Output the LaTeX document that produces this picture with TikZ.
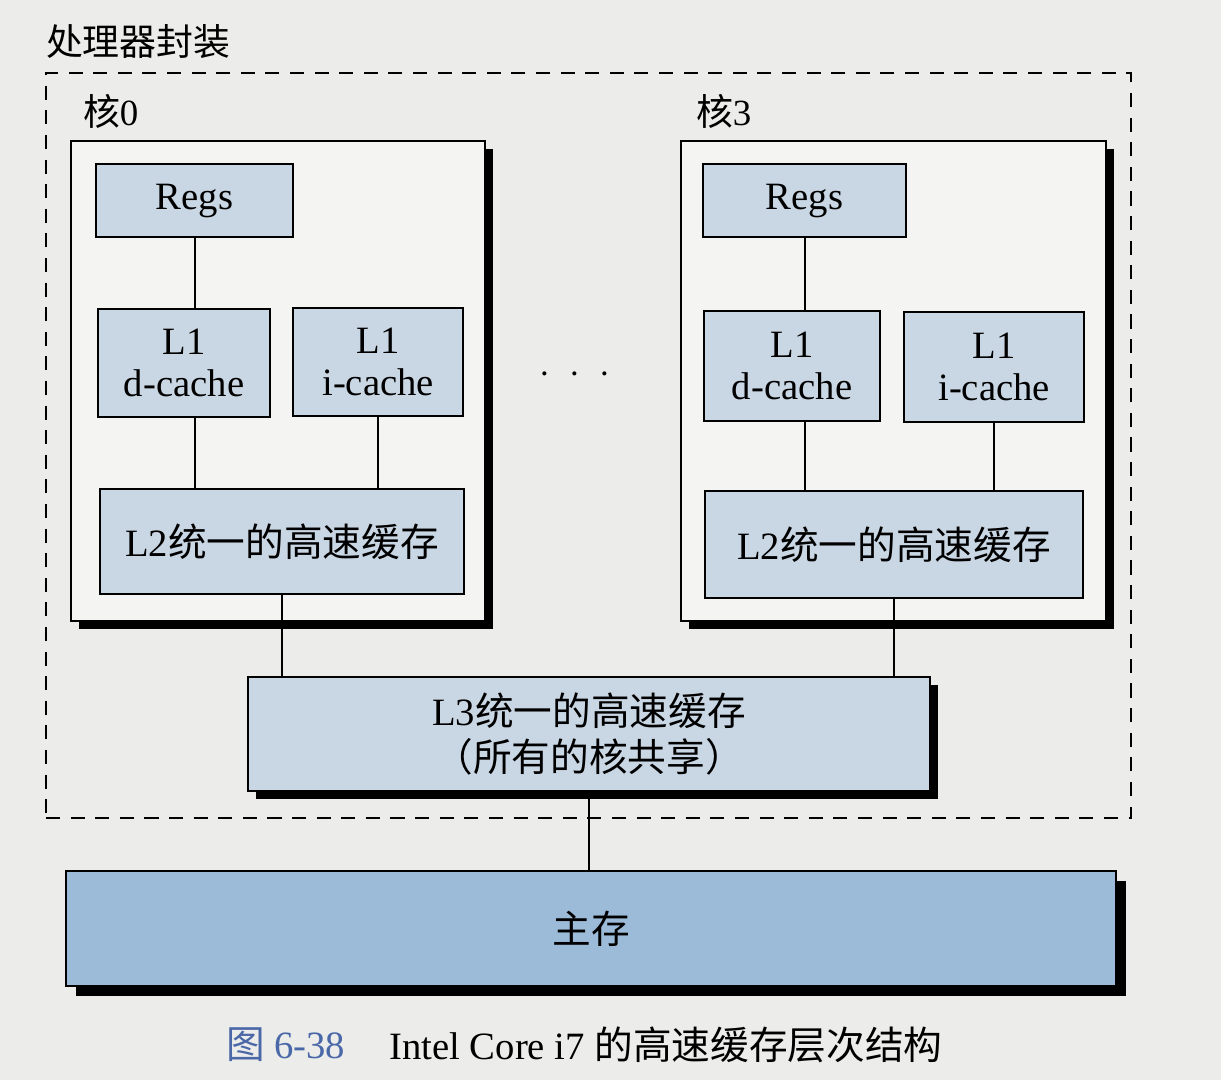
\documentclass[tikz,border=0pt]{standalone}
\usepackage{fontspec}
\setmainfont{Liberation Serif}
\newfontfamily\cjk{Noto Sans CJK SC}
\usepackage{tikz}
\usetikzlibrary{positioning, shadows}
\definecolor{paper}{HTML}{ECECEA}
\definecolor{corefill}{HTML}{F4F4F3}
\definecolor{cachefill}{HTML}{C9D6E3}
\definecolor{memfill}{HTML}{9CBBD8}
\definecolor{captionblue}{HTML}{4A68A8}

\tikzset{
  boxshadow/.style={drop shadow={shadow xshift=0.08cm, shadow yshift=-0.08cm, fill=black, opacity=1}},
  corebox/.style={draw, fill=corefill, semithick, anchor=north west, inner sep=0pt, boxshadow},
  cachebox/.style={draw, fill=cachefill, semithick, anchor=north west, inner sep=0pt, align=center},
  tag/.style={inner sep=0pt, font=\fontsize{10.5pt}{13pt}\selectfont}
}

\begin{document}
\begin{tikzpicture}[font=\fontsize{11pt}{11.8pt}\selectfont, semithick]
  \fill[paper] (0,0) rectangle (12.21,-10.8);
  \useasboundingbox (0,0) rectangle (12.21,-10.8);

  % processor package
  \node (pkg) [draw, dash pattern=on 4pt off 3pt, anchor=north west, inner sep=0pt,
        minimum width=10.85cm, minimum height=7.45cm] at (0.45,-0.72) {};
  \node (pkgname) [tag, above right=0.12cm and 0cm of pkg.north west] {\cjk 处理器封装};

  % core 0
  \node (core0) [corebox, minimum width=4.14cm, minimum height=4.8cm] at (0.70,-1.40) {};
  \node (core0name) [tag, above right=0.1cm and 0.12cm of core0.north west] {{\cjk 核}0};
  \node (regsA) [cachebox, minimum width=1.97cm, minimum height=0.73cm] at (0.95,-1.63) {Regs};
  \node (l1dA) [cachebox, minimum width=1.72cm, minimum height=1.08cm] at (0.97,-3.08) {L1\\d-cache};
  \node (l1iA) [cachebox, minimum width=1.7cm, minimum height=1.08cm] at (2.92,-3.07) {L1\\i-cache};
  \node (l2A) [cachebox, minimum width=3.64cm, minimum height=1.05cm] at (0.99,-4.88) {L2{\cjk 统一的高速缓存}};

  \node (dots) at (5.75,-3.75) {$\cdot$\enspace$\cdot$\enspace$\cdot$};

  % core 3
  \node (core3) [corebox, minimum width=4.25cm, minimum height=4.8cm] at (6.80,-1.40) {};
  \node (core3name) [tag, above right=0.1cm and 0.15cm of core3.north west] {{\cjk 核}3};
  \node (regsB) [cachebox, minimum width=2.03cm, minimum height=0.73cm] at (7.02,-1.63) {Regs};
  \node (l1dB) [cachebox, minimum width=1.76cm, minimum height=1.1cm] at (7.03,-3.10) {L1\\d-cache};
  \node (l1iB) [cachebox, minimum width=1.8cm, minimum height=1.1cm] at (9.03,-3.11) {L1\\i-cache};
  \node (l2B) [cachebox, minimum width=3.78cm, minimum height=1.07cm] at (7.04,-4.90) {L2{\cjk 统一的高速缓存}};

  % shared levels
  \node (lthree) [cachebox, boxshadow, minimum width=6.82cm, minimum height=1.14cm,
        font=\fontsize{11pt}{13pt}\selectfont] at (2.47,-6.76)
        {L3{\cjk 统一的高速缓存}\\{\cjk （所有的核共享）}};
  \node (mainmem) [draw, fill=memfill, semithick, anchor=north west, inner sep=0pt,
        drop shadow={shadow xshift=0.1cm, shadow yshift=-0.1cm, fill=black, opacity=1},
        minimum width=10.5cm, minimum height=1.15cm] at (0.65,-8.70) {\cjk 主存};

  % connections
  \draw (regsA.south) -- (regsA.south |- l1dA.north);
  \draw (regsA.south |- l1dA.south) -- (regsA.south |- l2A.north);
  \draw (l1iA.south) -- (l1iA.south |- l2A.north);
  \draw (regsB.south) -- (regsB.south |- l1dB.north);
  \draw (regsB.south |- l1dB.south) -- (regsB.south |- l2B.north);
  \draw (l1iB.south) -- (l1iB.south |- l2B.north);
  \draw (l2A.south) -- (l2A.south |- lthree.north);
  \draw (l2B.south) -- (l2B.south |- lthree.north);
  \draw (lthree.south) -- (lthree.south |- mainmem.north);

  % caption
  \node (fignum) [inner sep=0pt, anchor=west, text=captionblue, font=\fontsize{11pt}{13pt}\selectfont]
        at (2.25,-10.45) {{\cjk 图} 6-38};
  \node (figtitle) [inner sep=0pt, right=0.42cm of fignum, font=\fontsize{11pt}{13pt}\selectfont]
        {Intel Core i7 {\cjk 的高速缓存层次结构}};
\end{tikzpicture}
\end{document}
